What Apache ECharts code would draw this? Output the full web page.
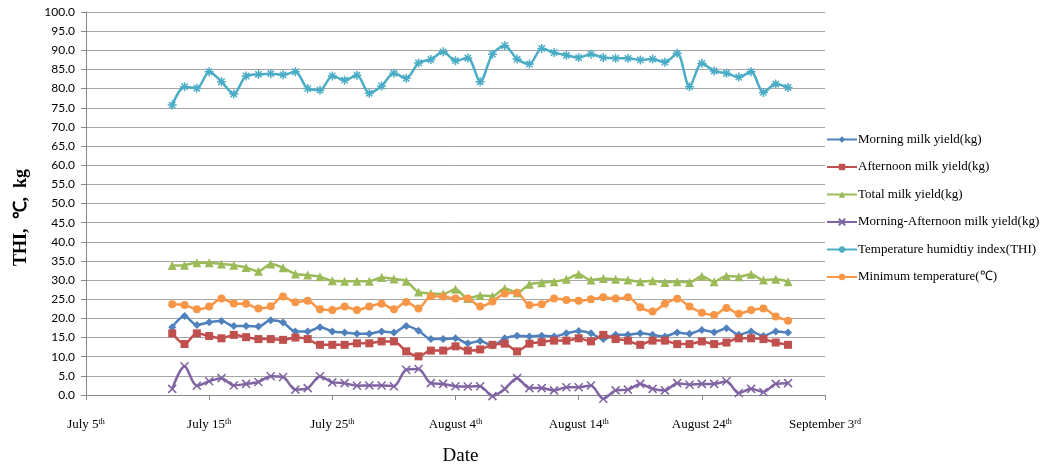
<!DOCTYPE html>
<html><head><meta charset="utf-8">
<script src="https://cdn.jsdelivr.net/npm/echarts@6/dist/echarts.min.js"></script>
<style>html,body{margin:0;padding:0;background:#fff}#c{width:1051px;height:464px}</style>
</head><body><div id="c"></div>
<script>
// Day offset (days after July 5th) of the first observation
const startDay = 7;
const tickLabels = [["July 5","th"],["July 15","th"],["July 25","th"],["August 4","th"],["August 14","th"],["August 24","th"],["September 3","rd"]];
const seriesNames = ["Morning milk yield(kg)","Afternoon milk yield(kg)","Total milk yield(kg)","Morning-Afternoon milk yield(kg)","Temperature humidtiy index(THI)","Minimum temperature(\u2103)"];

const morning = [17.7,20.6,18.3,19.0,19.3,18.0,18.0,17.9,19.5,18.9,16.6,16.6,17.7,16.6,16.3,16.0,16.0,16.6,16.3,18.0,16.8,14.6,14.6,14.8,13.5,14.1,12.9,14.8,15.5,15.3,15.5,15.3,16.1,16.7,16.1,14.6,15.7,15.7,16.1,15.7,15.3,16.3,16.0,17.0,16.4,17.4,15.7,16.6,15.4,16.6,16.3];
const afternoon = [16.1,13.3,16.1,15.4,14.8,15.7,15.1,14.6,14.6,14.4,15.0,14.6,13.1,13.1,13.1,13.5,13.5,14.0,14.0,11.4,10.1,11.6,11.6,12.7,11.6,11.9,13.1,13.4,11.4,13.4,13.8,14.2,14.2,14.8,14.0,15.7,14.6,14.2,13.1,14.2,14.2,13.3,13.3,14.0,13.3,13.7,14.8,14.8,14.6,13.7,13.1];
const total = [33.8,33.9,34.5,34.5,34.2,33.9,33.3,32.3,34.2,33.2,31.6,31.3,30.9,29.8,29.7,29.7,29.7,30.7,30.3,29.7,26.9,26.5,26.4,27.6,25.2,26.0,25.8,27.8,26.7,28.9,29.3,29.6,30.2,31.5,30.0,30.4,30.2,30.0,29.6,29.8,29.4,29.6,29.4,31.0,29.6,31.1,30.9,31.5,30.0,30.2,29.6];
const diff = [1.6,7.5,2.4,3.6,4.4,2.5,2.9,3.4,4.9,4.7,1.4,1.8,4.9,3.3,3.1,2.4,2.5,2.5,2.3,6.6,6.8,3.1,2.9,2.3,2.2,2.3,-0.3,1.6,4.4,1.8,1.8,1.2,2.0,2.0,2.5,-1.0,1.2,1.4,2.9,1.6,1.2,3.1,2.7,2.9,2.9,3.6,0.5,1.6,0.8,2.9,3.1];
const thi = [75.7,80.5,80.1,84.4,81.8,78.6,83.3,83.7,83.9,83.6,84.4,80.0,79.6,83.3,82.2,83.5,78.8,80.7,84.0,82.7,86.7,87.6,89.6,87.3,88.0,81.8,89.0,91.2,87.7,86.4,90.5,89.4,88.7,88.1,89.0,88.1,87.9,87.9,87.5,87.7,86.9,89.2,80.5,86.6,84.6,84.0,83.0,84.4,79.0,81.2,80.3];
const minTemp = [23.7,23.5,22.4,23.1,25.2,23.9,23.8,22.6,23.2,25.7,24.2,24.6,22.4,22.2,23.1,22.2,23.1,23.8,22.4,24.3,22.6,25.8,25.7,25.2,25.2,23.1,24.4,26.5,26.7,23.5,23.7,25.2,24.8,24.6,25.0,25.5,25.2,25.5,22.9,21.8,23.8,25.1,23.1,21.5,20.9,22.7,21.2,22.2,22.6,20.5,19.4];

const colors = ["#4F81BD","#C0504D","#9BBB59","#8064A2","#4BACC6","#F79646"];
const xSym = 'path://M0,0L10,10M10,0L0,10';
const astSym = 'path://M0,5L10,5M5,0L5,10M1.5,1.5L8.5,8.5M8.5,1.5L1.5,8.5';
const symbols = ['diamond','rect','triangle',xSym,astSym,'circle'];
const sizes = [8,8,9,8,9,8];
const allData = [morning, afternoon, total, diff, thi, minTemp];

const series = allData.map((arr, k) => ({
  name: seriesNames[k],
  type: 'line',
  smooth: 0.3,
  clip: false,
  symbol: symbols[k],
  symbolSize: sizes[k],
  showSymbol: true,
  lineStyle: {color: colors[k], width: 2.5},
  itemStyle: {color: colors[k], borderColor: colors[k], borderWidth: (k===3||k===4)?1.5:0},
  data: arr.map((v, i) => [startDay + i, v]),
  animation: false
}));

const chart = echarts.init(document.getElementById('c'), null, {renderer: 'canvas'});
chart.setOption({
  backgroundColor: '#fff',
  color: colors,
  animation: false,
  grid: {left: 86, top: 12, width: 739, height: 383, containLabel: false, outerBoundsMode: 'none'},
  legend: {
    orient: 'vertical', left: 821, top: 128, itemGap: 14.5,
    itemWidth: 30, itemHeight: 8,
    textStyle: {fontFamily: '"Liberation Serif", serif', fontSize: 13, color: '#000', padding: [0,0,0,-4]},
    data: seriesNames
  },
  xAxis: {
    type: 'value', min: 0, max: 60, interval: 10,
    name: 'Date', nameLocation: 'middle', nameGap: 52,
    nameTextStyle: {fontFamily: '"Liberation Serif", serif', fontSize: 19, color: '#000', padding: [0,0,0,10]},
    axisLine: {show: true, lineStyle: {color: '#888', width: 1}},
    axisTick: {show: true, length: 5, lineStyle: {color: '#888'}},
    splitLine: {show: false},
    axisLabel: {
      margin: 22,
      formatter: v => { const t = tickLabels[Math.round(v/10)]; return t ? '{a|' + t[0] + '}{s|' + t[1] + '}' : ''; },
      rich: {
        a: {fontFamily: '"Liberation Serif", serif', fontSize: 13, color: '#000', lineHeight: 16},
        s: {fontFamily: '"Liberation Serif", serif', fontSize: 8, color: '#000', padding: [0,0,7,0], lineHeight: 16}
      }
    }
  },
  yAxis: {
    type: 'value', min: 0, max: 100, interval: 5,
    name: 'THI,  \u2103,  kg', nameLocation: 'middle', nameGap: 56, nameRotate: 90,
    nameTextStyle: {fontFamily: '"Liberation Serif", serif', fontSize: 18, fontWeight: 'bold', color: '#000', padding: [0,0,0,-28]},
    axisLine: {show: true, lineStyle: {color: '#888', width: 1}},
    axisTick: {show: true, length: 5, lineStyle: {color: '#888'}},
    splitLine: {show: true, lineStyle: {color: '#A6A6A6', width: 1}},
    axisLabel: {formatter: v => v.toFixed(1), fontFamily: 'Lato, sans-serif', fontSize: 12, color: '#000', margin: 11}
  },
  series: series
});
</script></body></html>
